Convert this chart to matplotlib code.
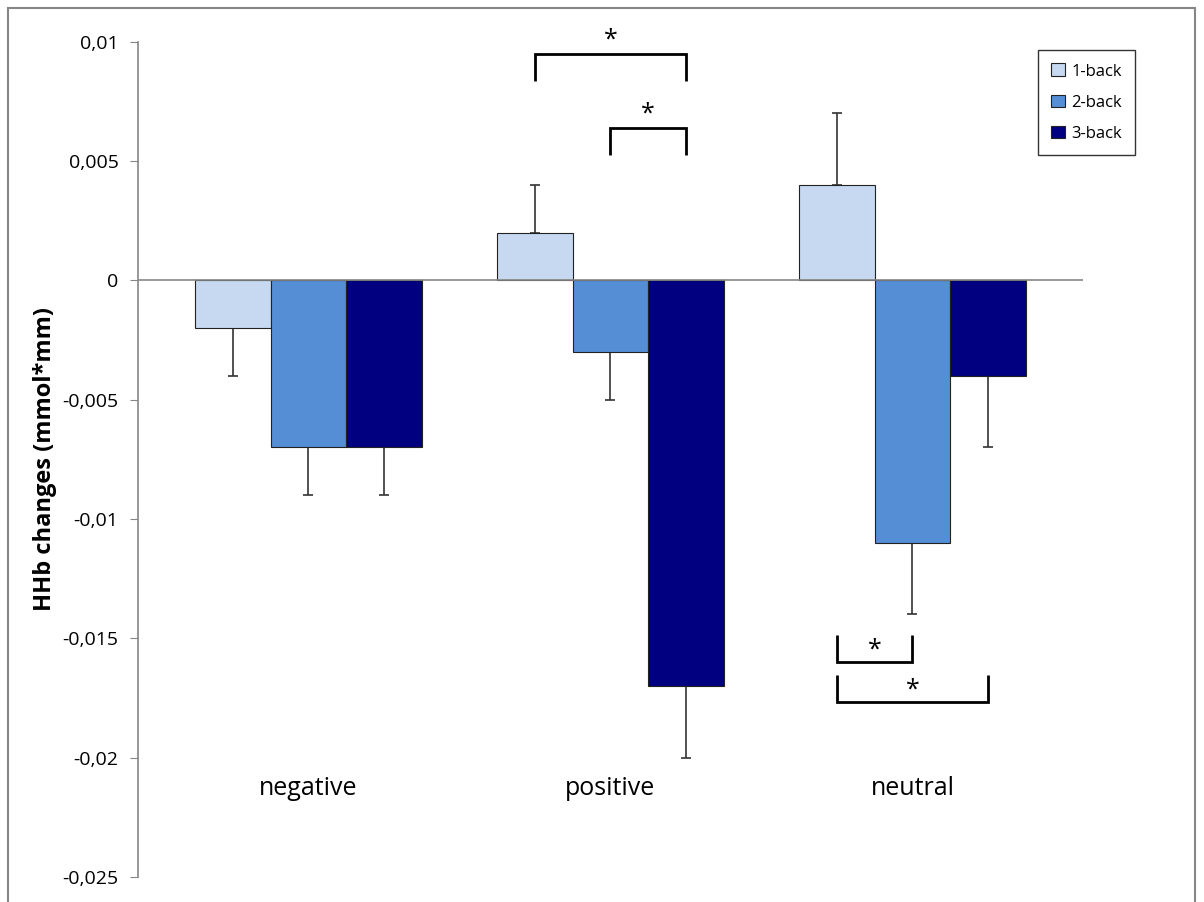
import matplotlib
matplotlib.use("Agg")
import matplotlib.pyplot as plt
from matplotlib.patches import Rectangle
from matplotlib.ticker import FixedLocator, FuncFormatter
import numpy as np

plt.rcParams['font.family'] = ['Open Sans', 'DejaVu Sans']

# data
categories = ["negative", "positive", "neutral"]
series = ["1-back", "2-back", "3-back"]
values = {
    "1-back": [-0.002, 0.002, 0.004],
    "2-back": [-0.007, -0.003, -0.011],
    "3-back": [-0.007, -0.017, -0.004],
}
errors = {
    "1-back": [0.002, 0.002, 0.003],
    "2-back": [0.002, 0.002, 0.003],
    "3-back": [0.002, 0.003, 0.003],
}
colors = ["#C6D9F1", "#558ED5", "#000080"]
y_ticks = [0.01, 0.005, 0, -0.005, -0.01, -0.015, -0.02, -0.025]

# significance brackets: (category, bar a, bar b, y at open end, y at closed end)
brackets = [
    (1, 0, 2, 0.00835, 0.00948),
    (1, 1, 2, 0.00525, 0.00637),
    (2, 0, 1, -0.01486, -0.01598),
    (2, 0, 2, -0.01653, -0.01765),
]

fig = plt.figure(figsize=(12.04, 9.02), dpi=100)
ax = fig.add_axes([138/1204, 25/902, (1083-138)/1204, (877-41.7)/902])

x = np.arange(len(categories))
w = 0.25
for i, s in enumerate(series):
    xs = x + (i - 1) * w
    vals = np.array(values[s])
    errs = np.array(errors[s])
    ax.bar(xs, vals, width=w, color=colors[i], edgecolor="#222222", linewidth=0.8,
           label=s, zorder=2)
    lower = np.where(vals < 0, errs, 0)
    upper = np.where(vals >= 0, errs, 0)
    ax.errorbar(xs, vals, yerr=[lower, upper], fmt="none", ecolor="#333333",
                elinewidth=1.2, capsize=3.5, capthick=1.2, zorder=1)

ax.axhline(0, color="#868686", linewidth=1.2, zorder=3)

for cat, a, b, y_open, y_end in brackets:
    xa = cat + (a - 1) * w
    xb = cat + (b - 1) * w
    ax.plot([xa, xa, xb, xb], [y_open, y_end, y_end, y_open], color="black",
            linewidth=2, solid_capstyle="butt", solid_joinstyle="miter", clip_on=False)
    if y_end > y_open:
        ax.text((xa + xb) / 2, y_end + 0.0006, "*", ha="center", va="center",
                fontsize=18, zorder=4)
    else:
        ax.text((xa + xb) / 2, y_end + 0.0005, "*", ha="center", va="center",
                fontsize=18, zorder=4)

for i, c in enumerate(categories):
    ax.text(x[i], -0.02128, c, ha="center", va="center", fontsize=18)

ax.set_xlim(-0.5646, 2.565)
ax.set_ylim(-0.025, 0.01)
ax.yaxis.set_major_locator(FixedLocator(y_ticks))
ax.yaxis.set_major_formatter(FuncFormatter(lambda v, p: ("%g" % v).replace(".", ",") if abs(v) > 1e-12 else "0"))
ax.set_xticks([])
for sp in ["top", "right", "bottom"]:
    ax.spines[sp].set_visible(False)
ax.spines["left"].set_color("#868686")
ax.spines["left"].set_linewidth(1.2)
ax.tick_params(axis="y", direction="out", length=6, color="#868686", labelsize=14, pad=8)
ax.set_ylabel("HHb changes (mmol*mm)", fontsize=17, fontweight="bold")
ax.yaxis.set_label_coords(-0.0857, 0.5)

leg = fig.legend(loc="upper left", bbox_to_anchor=(1038/1204, 1 - 50/902), fontsize=12,
                 frameon=True, fancybox=False, edgecolor="black", handlelength=0.8,
                 handleheight=0.8, handletextpad=0.4, labelspacing=0.9, borderpad=0.8,
                 borderaxespad=0)
leg.get_frame().set_linewidth(1.0)

fig.patches.append(Rectangle((8/1204, -0.02), (1195-8)/1204, 1 - 8/902 + 0.02,
                             transform=fig.transFigure, fill=False, edgecolor="#868686",
                             linewidth=1.5))

fig.savefig("out.png", dpi=100)
